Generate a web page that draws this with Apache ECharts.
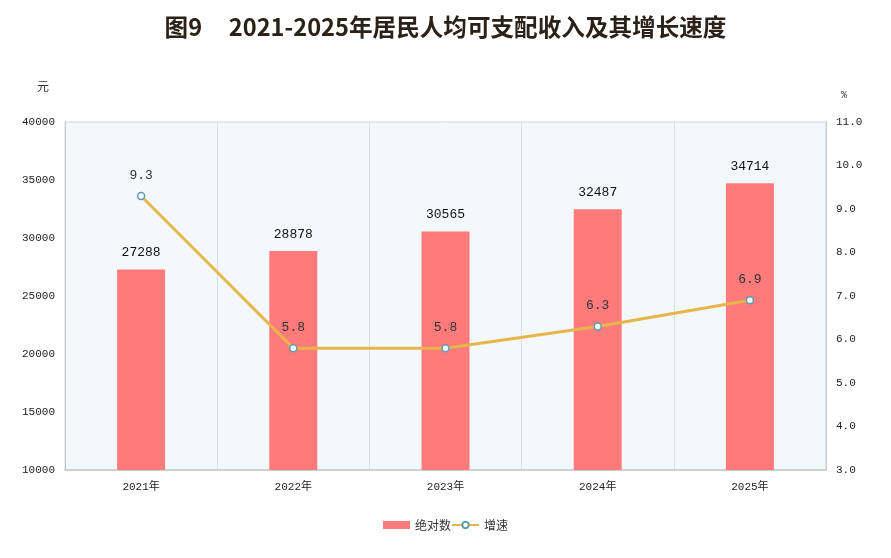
<!DOCTYPE html>
<html><head><meta charset="utf-8">
<script src="https://cdn.jsdelivr.net/npm/echarts@6/dist/echarts.min.js"></script>
<style>html,body{margin:0;padding:0;background:#fff}#c{width:891px;height:558px}</style>
</head><body><div id="c"></div>
<script>
var categories = ['2021年','2022年','2023年','2024年','2025年'];
var income = [27288, 28878, 30565, 32487, 34714];
var growth = [9.3, 5.8, 5.8, 6.3, 6.9];
var leftTicks = [10000, 40000, 5000];
var rightTicks = [3, 11, 1];

var chart = echarts.init(document.getElementById('c'));
var font = '"Noto Sans CJK SC", "DejaVu Sans", sans-serif';
var mono = '"Liberation Mono", "Noto Sans CJK SC", monospace';
chart.setOption({
  animation: false,
  textStyle: {fontFamily: font},
  title: {
    text: '图9     2021-2025年居民人均可支配收入及其增长速度',
    left: 'center', top: 10,
    textStyle: {fontSize: 23.6, fontWeight: 'bold', color: '#2b2118', fontFamily: '"Noto Sans CJK SC", serif'}
  },
  legend: {
    bottom: 22, left: 'center', itemGap: 0, itemWidth: 27, itemHeight: 8,
    textStyle: {fontSize: 12, color: '#333'},
    data: [{name: '绝对数', icon: 'rect'}, {name: '增速'}]
  },
  grid: {left: 65, right: 65, top: 122, bottom: 88, show: true, backgroundColor: '#f3f8fb', borderColor: '#cfd8dd', borderWidth: 1},
  xAxis: {
    type: 'category', data: categories,
    axisLine: {lineStyle: {color: '#c8c8c8', width: 1.5}},
    axisTick: {show: false},
    axisLabel: {color: '#222', fontSize: 11, margin: 12, fontFamily: mono},
    splitLine: {show: true, lineStyle: {color: '#d8e1e6'}}
  },
  yAxis: [{
    type: 'value', min: leftTicks[0], max: leftTicks[1], interval: leftTicks[2],
    name: '元', nameLocation: 'end', nameGap: 30,
    nameTextStyle: {color: '#333', fontSize: 12, align: 'right', padding: [0, 16, 0, 0]},
    axisLine: {show: true, lineStyle: {color: '#c8c8c8'}},
    axisTick: {show: false},
    axisLabel: {color: '#222', fontSize: 11, margin: 10, fontFamily: mono, formatter: function(v){return String(v);}},
    splitLine: {show: false}
  }, {
    type: 'value', min: rightTicks[0], max: rightTicks[1], interval: rightTicks[2],
    name: '%', nameLocation: 'end', nameGap: 22,
    nameTextStyle: {color: '#333', fontSize: 10, align: 'left', padding: [0, 0, 0, 15], fontFamily: mono},
    axisLine: {show: true, lineStyle: {color: '#c8c8c8'}},
    axisTick: {show: false},
    axisLabel: {color: '#222', fontSize: 11, margin: 10, fontFamily: mono, formatter: function(v){return v.toFixed(1);}},
    splitLine: {show: false}
  }],
  series: [{
    name: '绝对数', type: 'bar', data: income, barWidth: 48,
    itemStyle: {color: '#ff7b7b'},
    label: {show: true, position: 'top', distance: 10, color: '#111', fontSize: 13, fontFamily: mono}
  }, {
    name: '增速', type: 'line', yAxisIndex: 1, data: growth,
    symbol: 'circle', symbolSize: 7,
    lineStyle: {color: '#e8b54a', width: 3},
    itemStyle: {color: '#ffffff', borderColor: '#5b9cb6', borderWidth: 1.5},
    label: {show: true, position: 'top', distance: 10, color: '#333', fontSize: 13, fontFamily: mono}
  }]
});
</script></body></html>
